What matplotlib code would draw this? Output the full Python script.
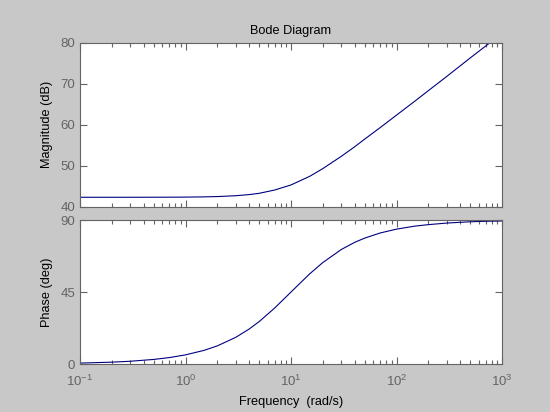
import numpy as np
import matplotlib
matplotlib.use('Agg')
import matplotlib.pyplot as plt
from matplotlib.ticker import LogLocator, NullFormatter

freq = [0.1, 0.2, 0.3, 0.5, 0.7, 1, 1.5, 2, 3, 4, 5, 7, 10, 15, 20, 30, 40,
        50, 70, 100, 150, 200, 300, 500, 700, 1000]
mag_db = [42.3, 42.3, 42.3, 42.31, 42.32, 42.34, 42.4, 42.47, 42.68, 42.95,
          43.27, 44.07, 45.31, 47.4, 49.29, 52.3, 54.6, 56.5, 59.3, 62.34,
          65.8, 68.3, 71.8, 76.3, 79.2, 82.3]
phase_deg = [0.57, 1.15, 1.72, 2.86, 4.0, 5.71, 8.53, 11.31, 16.7, 21.8,
             26.57, 34.99, 45.0, 56.3, 63.4, 71.6, 76.0, 78.7, 81.9, 84.3,
             86.2, 87.1, 88.1, 88.9, 89.2, 89.4]

plt.rcParams['font.family'] = ['Liberation Sans', 'DejaVu Sans']
plt.rcParams['font.size'] = 9
plt.rcParams['mathtext.fontset'] = 'custom'
plt.rcParams['mathtext.rm'] = 'Liberation Sans'

gris = '#646464'
fondo = '#c8c8c8'
linea = '#000080'

fig = plt.figure(figsize=(5.5, 4.12), dpi=100, facecolor=fondo)
ax1 = fig.add_axes([0.1455, 0.4983, 0.7673, 0.398])
ax2 = fig.add_axes([0.1455, 0.1165, 0.7673, 0.3495])

ax1.semilogx(freq, mag_db, color=linea, lw=0.8)
ax2.semilogx(freq, phase_deg, color=linea, lw=0.8)

for ax in (ax1, ax2):
    ax.set_xlim(0.1, 1000)
    ax.xaxis.set_major_locator(LogLocator(base=10, numticks=10))
    ax.xaxis.set_minor_locator(LogLocator(base=10, subs=np.arange(2, 10), numticks=10))
    ax.xaxis.set_minor_formatter(NullFormatter())
    ax.tick_params(which='both', direction='in', top=True, right=True,
                   colors=gris, labelcolor=gris, labelsize=9.5)
    ax.tick_params(which='major', length=5, width=0.8)
    ax.tick_params(which='minor', length=3, width=0.8)
    for s in ax.spines.values():
        s.set_color(gris)
        s.set_linewidth(0.8)

ax1.set_ylim(40, 80)
ax1.set_yticks([40, 50, 60, 70, 80])
ax1.tick_params(labelbottom=False)
ax1.set_ylabel('Magnitude (dB)', fontsize=9.2)
ax1.yaxis.set_label_coords(-0.064, 0.5)
ax1.set_title('Bode Diagram', fontsize=9.2, pad=6)

ax2.set_ylim(0, 90)
ax2.set_yticks([0, 45, 90])
ax2.tick_params(axis='x', pad=7)
ax2.set_ylabel('Phase (deg)', fontsize=9.2)
ax2.yaxis.set_label_coords(-0.064, 0.5)
ax2.set_xlabel('Frequency  (rad/s)', fontsize=9.2, labelpad=5)

fig.savefig('out.png', dpi=100, facecolor=fondo)
